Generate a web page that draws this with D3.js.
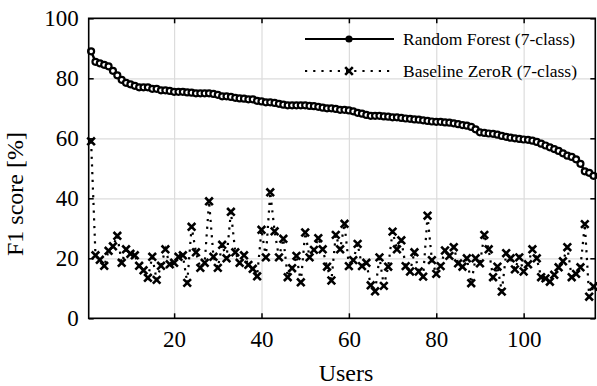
<!DOCTYPE html>
<html>
<head>
<meta charset="utf-8">
<script src="https://cdn.jsdelivr.net/npm/d3@7"></script>
<style>
  body { margin: 0; background: #fff; }
  svg { display: block; font-family: "Liberation Serif", "Times New Roman", serif; }
</style>
</head>
<body>
<svg id="chart" width="597" height="386"></svg>
<script>
// Random Forest F1 per user, sorted descending
const rfScores = [
  89, 85.5, 85, 84.5, 84, 82.5, 81, 79.5, 78.5, 78,
  77.5, 77, 77, 77, 76.5, 76.5, 76, 76, 75.8, 75.5,
  75.5, 75.5, 75.3, 75.2, 75, 75, 75, 75, 74.8, 74.5,
  74, 74, 73.8, 73.5, 73.3, 73.2, 73, 73, 72.5, 72.3,
  72, 72, 71.8, 71.5, 71.2, 71, 71, 71, 71, 71,
  70.8, 70.7, 70.5, 70.2, 70, 70, 69.8, 69.5, 69.5, 69.3,
  69, 68.5, 68.2, 67.8, 67.5, 67.5, 67.5, 67.3, 67.2, 67,
  67, 66.8, 66.6, 66.5, 66.3, 66.2, 66, 65.8, 65.6, 65.5,
  65.5, 65.3, 65.2, 65, 64.7, 64.4, 64.2, 63.8, 63, 62,
  61.8, 61.6, 61.5, 61.2, 60.8, 60.5, 60.2, 60, 59.8, 59.6,
  59.5, 59.2, 58.8, 58.2, 57.6, 57, 56.4, 55.8, 55, 54.2,
  53.8, 53, 51.5, 49, 48.5, 47.5
];

// Baseline ZeroR F1 per user
const zeroRScores = [
  59, 21, 19.5, 17.5, 22.5, 24, 27.5, 18.5, 23, 21.5,
  21, 17.5, 16, 13.5, 20.5, 12.8, 17.5, 23, 18, 18.5,
  20.5, 21, 11.8, 30.5, 22, 16.8, 18.5, 39, 20.5, 16.8,
  24.5, 20, 35.5, 22, 18.5, 21, 17.8, 16.5, 14, 29.5,
  20.3, 42, 29, 20.3, 26.5, 13.7, 16.7, 20.8, 12, 28.6,
  20.3, 22.8, 26.7, 23, 17.2, 12.6, 27.8, 23, 31.5, 17.4,
  19.4, 24.8, 17.4, 18.5, 11, 9, 20.3, 10.8, 17.2, 28.9,
  23, 26, 17.4, 15.6, 22, 15.6, 13.9, 34.2, 19.4, 14.8,
  17.4, 22.6, 20.8, 23.7, 18.3, 17.2, 20, 11.7, 20, 18.3,
  27.8, 23, 13.7, 17.2, 8.9, 21.7, 20, 16.3, 20.3, 15.6,
  18, 23, 20, 13.7, 13.3, 12.2, 14.5, 17, 19, 23.7,
  13.7, 14.8, 17, 31.4, 7.2, 10.6
];

const users = rfScores.map((d, i) => i + 1);
const xTicks = [20, 40, 60, 80, 100];
const yTicks = [0, 20, 40, 60, 80, 100];
const legendLabels = ["Random Forest (7-class)", "Baseline ZeroR (7-class)"];

const margin = { top: 18.3, right: 1.7, bottom: 67.7, left: 88.7 };
const width = 597, height = 386;
const innerW = width - margin.left - margin.right;
const innerH = height - margin.top - margin.bottom;

const svg = d3.select("#chart");
const g = svg.append("g").attr("transform", `translate(${margin.left},${margin.top})`);

const x = d3.scaleLinear().domain([0.45, 116.4]).range([0, innerW]);
const y = d3.scaleLinear().domain([0, 100]).range([innerH, 0]);

// grid
g.append("g")
    .call(d3.axisLeft(y).tickValues(yTicks).tickSize(-innerW).tickFormat(""))
    .call(a => a.select(".domain").remove())
    .call(a => a.selectAll("line").attr("stroke", "#dcdcdc").attr("stroke-width", 1.2));
g.append("g")
    .attr("transform", `translate(0,${innerH})`)
    .call(d3.axisBottom(x).tickValues(xTicks).tickSize(innerH).tickFormat(""))
    .call(a => a.select(".domain").remove())
    .call(a => a.selectAll("line").attr("stroke", "#dcdcdc").attr("stroke-width", 1.2).attr("y2", -innerH));

// baseline ZeroR: dotted line + x markers
const line = d3.line().x((d, i) => x(users[i])).y(d => y(d));
g.append("path")
    .datum(zeroRScores)
    .attr("fill", "none")
    .attr("stroke", "#000")
    .attr("stroke-width", 2.2)
    .attr("stroke-dasharray", "2.2,5.5")
    .attr("d", line);

const xs = 3.8;
const cross = `M${-xs},${-xs}L${xs},${xs}M${-xs},${xs}L${xs},${-xs}`;
g.append("g")
    .selectAll("path")
    .data(zeroRScores)
    .join("path")
    .attr("transform", (d, i) => `translate(${x(users[i])},${y(d)})`)
    .attr("d", cross)
    .attr("stroke", "#000")
    .attr("stroke-width", 2.6)
    .attr("fill", "none");

// random forest: solid line + open circles
g.append("path")
    .datum(rfScores)
    .attr("fill", "none")
    .attr("stroke", "#000")
    .attr("stroke-width", 2.4)
    .attr("d", line);

g.append("g")
    .selectAll("circle")
    .data(rfScores)
    .join("circle")
    .attr("cx", (d, i) => x(users[i]))
    .attr("cy", d => y(d))
    .attr("r", 3)
    .attr("fill", "#fff")
    .attr("stroke", "#000")
    .attr("stroke-width", 2.2);

// axes with inward ticks
const tickLen = 5;
g.append("g")
    .call(d3.axisLeft(y).tickValues(yTicks).tickSize(-tickLen).tickPadding(10))
    .call(a => a.select(".domain").remove())
    .call(a => a.selectAll("text").attr("font-size", 23).attr("font-family", "Liberation Serif").attr("fill", "#000"));
g.append("g")
    .attr("transform", `translate(${innerW},0)`)
    .call(d3.axisRight(y).tickValues(yTicks).tickSize(-tickLen).tickFormat(""))
    .call(a => a.select(".domain").remove());
g.append("g")
    .attr("transform", `translate(0,${innerH})`)
    .call(d3.axisBottom(x).tickValues(xTicks).tickSize(-tickLen).tickPadding(12))
    .call(a => a.select(".domain").remove())
    .call(a => a.selectAll("text").attr("font-size", 23).attr("font-family", "Liberation Serif").attr("fill", "#000"));
g.append("g")
    .call(d3.axisTop(x).tickValues(xTicks).tickSize(-tickLen).tickFormat(""))
    .call(a => a.select(".domain").remove());
g.selectAll(".tick line").filter(function () { return !this.getAttribute("stroke-width"); })
    .attr("stroke", "#000").attr("stroke-width", 1.5);

// frame
g.append("rect")
    .attr("width", innerW).attr("height", innerH)
    .attr("fill", "none").attr("stroke", "#000").attr("stroke-width", 1.6);

// axis titles
svg.append("text")
    .attr("x", margin.left + innerW / 2 + 4)
    .attr("y", 381)
    .attr("text-anchor", "middle")
    .attr("font-size", 24)
    .text("Users");
svg.append("text")
    .attr("transform", `translate(23,194) rotate(-90)`)
    .attr("text-anchor", "middle")
    .attr("font-size", 24)
    .text("F1 score [%]");

// legend
const lg = svg.append("g");
const lx0 = 305, lx1 = 394, lmid = 349;
const ly = [39, 71];
lg.append("line").attr("x1", lx0).attr("x2", lx1).attr("y1", ly[0]).attr("y2", ly[0])
    .attr("stroke", "#000").attr("stroke-width", 2.2);
lg.append("circle").attr("cx", lmid).attr("cy", ly[0]).attr("r", 2.8)
    .attr("fill", "#000").attr("stroke", "#000").attr("stroke-width", 1.6);
lg.append("line").attr("x1", lx0).attr("x2", lx1).attr("y1", ly[1]).attr("y2", ly[1])
    .attr("stroke", "#000").attr("stroke-width", 2.2).attr("stroke-dasharray", "2.2,6");
lg.append("path").attr("transform", `translate(${lmid},${ly[1]})`).attr("d", cross)
    .attr("stroke", "#000").attr("stroke-width", 2.6);
lg.selectAll("text")
    .data(legendLabels)
    .join("text")
    .attr("x", 403)
    .attr("y", (d, i) => ly[i] + 5.5)
    .attr("font-size", 17.5)
    .text(d => d);
</script>
</body>
</html>
